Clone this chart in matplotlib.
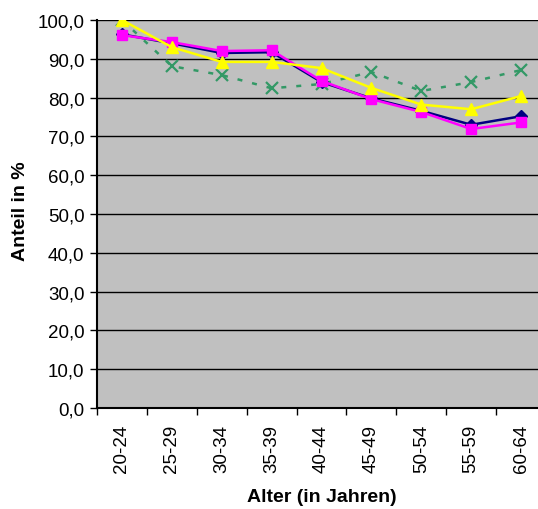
import matplotlib.pyplot as plt
import numpy as np

plt.rcParams['font.family'] = ['Liberation Sans', 'DejaVu Sans']

altersgruppen = ["20-24", "25-29", "30-34", "35-39", "40-44", "45-49", "50-54", "55-59", "60-64"]
reihe_navy = [96.3, 94.0, 91.5, 91.7, 84.0, 79.8, 76.6, 73.0, 75.2]
reihe_pink = [96.1, 94.3, 92.0, 92.2, 84.3, 79.6, 76.3, 71.9, 73.6]
reihe_gelb = [100.0, 93.0, 89.2, 89.2, 87.6, 82.5, 78.2, 77.0, 80.4]
reihe_gruen = [100.0, 88.1, 85.8, 82.4, 83.5, 86.6, 81.7, 84.0, 87.1]

fig = plt.figure(figsize=(5.38, 5.10), dpi=100)
ax = fig.add_axes([97/538, 1-409/510, 449/538, 388/510])
ax.set_facecolor('#C0C0C0')

x = np.arange(len(altersgruppen))

ax.plot(x, reihe_gruen, color='#339966', linestyle=(0, (2, 4)), linewidth=1.8,
        marker='x', markersize=8, markeredgewidth=1.6, zorder=3)
ax.plot(x, reihe_navy, color='#000080', linewidth=1.8, marker='D', markersize=6, zorder=4)
ax.plot(x, reihe_pink, color='#FF00FF', linewidth=1.8, marker='s', markersize=7.5, zorder=5)
ax.plot(x, reihe_gelb, color='#FFFF00', linewidth=1.8, marker='^', markersize=8, zorder=6)

ax.set_ylim(0, 100)
ax.set_xlim(-0.5, len(altersgruppen) - 0.5)
ax.set_yticks(np.arange(0, 101, 10))
ax.set_yticklabels([f"{v:.1f}".replace('.', ',') for v in np.arange(0, 101, 10)], fontsize=13.5)
ax.yaxis.grid(True, color='black', linewidth=1)
ax.set_axisbelow(True)

ax.set_xticks(x)
ax.set_xticklabels(altersgruppen, rotation=90, fontsize=13.5)
ax.set_xticks(np.arange(-0.5, len(altersgruppen)), minor=True)
ax.tick_params(axis='x', which='major', length=0, pad=11.5)
ax.tick_params(axis='x', which='minor', length=5, width=1, color='black')
ax.tick_params(axis='y', length=5, width=1, color='black', pad=4)

for s in ['top', 'right']:
    ax.spines[s].set_visible(False)
ax.spines['left'].set_linewidth(1.5)
ax.spines['bottom'].set_linewidth(1.5)

ax.set_xlabel('Alter (in Jahren)', fontsize=14, fontweight='bold')
ax.set_ylabel('Anteil in %', fontsize=14, fontweight='bold')
ax.xaxis.set_label_coords(0.5, -0.206)
ax.yaxis.set_label_coords(-0.151, 0.51)

plt.savefig('out.png', dpi=100)
